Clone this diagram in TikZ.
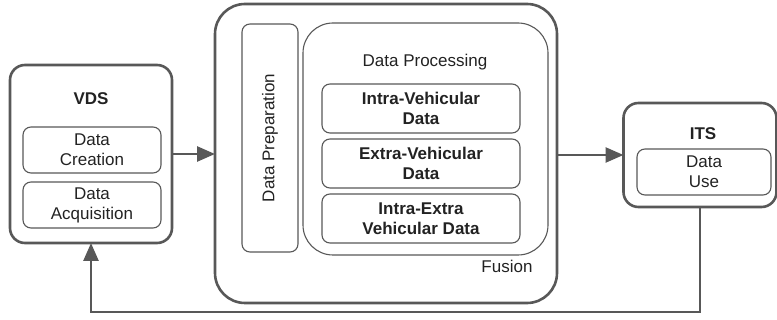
\documentclass[tikz,border=0pt]{standalone}
\usepackage{fontspec}
\setmainfont{Liberation Sans}
\usetikzlibrary{positioning,arrows.meta}
\definecolor{linegray}{RGB}{88,88,88}
\definecolor{textgray}{RGB}{34,34,34}
\tikzset{
  outerbox/.style={draw=linegray, line width=2.6pt, rounded corners=15pt, inner sep=0pt, outer sep=0pt},
  innerbox/.style={draw=linegray, line width=1.1pt, rounded corners=8pt, inner sep=0pt, outer sep=0pt, align=center,
                   font=\fontsize{17}{20}\selectfont, text=textgray},
  label/.style={inner sep=0pt, font=\fontsize{17}{20}\selectfont, text=textgray},
  flow/.style={draw=linegray, line width=2.6pt, -{Triangle[length=18pt,width=15pt]}}
}
\begin{document}
\begin{tikzpicture}[x=1pt,y=-1pt]
  \useasboundingbox (0,0) rectangle (777,320);
  % source side
  \node[outerbox, minimum width=162pt, minimum height=178pt] (vds) at (91,154) {};
  \node[label, font=\fontsize{17}{20}\selectfont\bfseries] (vdsname) at (91,99) {VDS};
  \node[innerbox, minimum width=138pt, minimum height=46pt] (creation) at (92,150) {Data\\Creation};
  \node[innerbox, minimum width=138pt, minimum height=46pt, below = 9pt of creation] (acquisition) {Data\\Acquisition};

  % fusion block
  \node[outerbox, rounded corners=30pt, minimum width=342pt, minimum height=299pt] (fusion) at (386,153.5) {};
  \node[innerbox, rotate=90, minimum width=228pt, minimum height=56pt] (prep) at (270,138) {Data Preparation};
  \node[innerbox, rounded corners=30pt, minimum width=245pt, minimum height=232pt] (proc) at (425.5,139) {};
  \node[label] (procname) at (425,62) {Data Processing};
  \node[innerbox, font=\fontsize{17}{20}\selectfont\bfseries, minimum width=198pt, minimum height=49pt] (intra) at (421,108.5) {Intra-Vehicular\\Data};
  \node[innerbox, font=\fontsize{17}{20}\selectfont\bfseries, minimum width=198pt, minimum height=49pt, below = 6pt of intra] (extra) {Extra-Vehicular\\Data};
  \node[innerbox, font=\fontsize{17}{20}\selectfont\bfseries, minimum width=198pt, minimum height=49pt, below = 6pt of extra] (both) {Intra-Extra\\Vehicular Data};
  \node[label] (fusionname) at (507,266) {Fusion};

  % target side
  \node[outerbox, minimum width=153pt, minimum height=104pt] (its) at (700,155) {};
  \node[label, font=\fontsize{17}{20}\selectfont\bfseries] (itsname) at (703,134) {ITS};
  \node[innerbox, minimum width=134pt, minimum height=46pt] (use) at (704,172) {Data\\Use};

  \coordinate (back) at (0,312);

  \draw[flow] (vds.east) -- (vds.east -| fusion.west);
  \draw[flow] (its.west -| fusion.east) -- (its.west);
  \draw[flow] (its.south) |- (back -| vds.south) -- (vds.south);
\end{tikzpicture}
\end{document}
